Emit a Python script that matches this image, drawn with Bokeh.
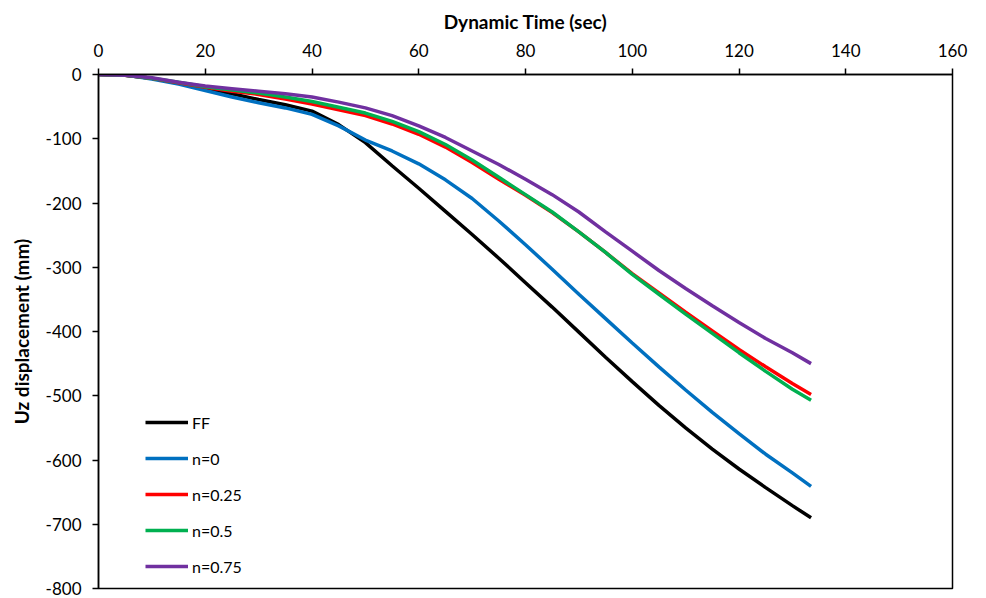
from bokeh.plotting import figure
from bokeh.models import Range1d, Legend, LegendItem
from bokeh.embed import file_html
from bokeh.resources import INLINE

# Data
time = [0, 5, 10, 15, 20, 25, 30, 35, 40, 45, 50, 55, 60, 65, 70, 75, 80, 85,
        90, 95, 100, 105, 110, 115, 120, 125, 130, 133.5]
ff = [0, -1, -6, -13, -21, -30, -39, -47, -57, -78, -106, -142, -177, -213, -249,
      -286, -324, -362, -401, -440, -478, -515, -550, -583, -614, -643, -671, -690]
n0 = [0, -1, -7, -15, -25, -35, -44, -52, -62, -80, -102, -119, -139, -164, -193,
      -228, -265, -303, -342, -380, -418, -455, -491, -526, -559, -591, -620, -641]
n025 = [0, -1, -6, -13, -20, -26, -31, -38, -46, -55, -64, -77, -93, -113, -137,
        -163, -188, -215, -245, -277, -310, -340, -370, -399, -428, -455, -481, -498]
n05 = [0, -1, -6, -12, -19, -24, -29, -35, -42, -51, -60, -73, -89, -109, -133,
       -160, -187, -214, -245, -277, -311, -342, -373, -403, -433, -462, -490, -507]
n075 = [0, -1, -5, -12, -18, -22, -26, -30, -35, -43, -52, -64, -80, -98, -119,
        -140, -163, -187, -214, -245, -275, -305, -333, -360, -386, -411, -433, -450]

series_names = ["FF", "n=0", "n=0.25", "n=0.5", "n=0.75"]
series_values = [ff, n0, n025, n05, n075]
series_colors = ["#000000", "#0070C0", "#FF0000", "#00B050", "#7030A0"]

x_ticks = [0, 20, 40, 60, 80, 100, 120, 140, 160]
y_ticks = [0, -100, -200, -300, -400, -500, -600, -700, -800]

FONT = "Lato"

p = figure(width=986, height=598, output_backend="svg", toolbar_location=None,
           x_axis_location="above",
           x_range=Range1d(0, 160), y_range=Range1d(-800, 0),
           min_border_left=98, min_border_right=34, min_border_top=74,
           min_border_bottom=10)
p.background_fill_color = "white"
p.border_fill_color = "white"
p.xgrid.visible = False
p.ygrid.visible = False
p.outline_line_color = "#000000"
p.outline_line_width = 1.5

items = []
for name, vals, col in zip(series_names, series_values, series_colors):
    r = p.line(time, vals, line_color=col, line_width=3.5)
    items.append(LegendItem(label=name, renderers=[r]))

for ax in (p.xaxis[0], p.yaxis[0]):
    ax.axis_line_color = "#000000"
    ax.axis_line_width = 1.5
    ax.major_tick_line_color = "#000000"
    ax.major_tick_line_width = 1.5
    ax.major_tick_in = 0
    ax.major_tick_out = 6
    ax.minor_tick_line_color = None
    ax.major_label_text_font = FONT
    ax.major_label_text_font_size = "17px"
    ax.major_label_text_color = "#000000"
    ax.axis_label_text_font = FONT
    ax.axis_label_text_font_size = "19px"
    ax.axis_label_text_font_style = "bold"
    ax.axis_label_text_color = "#000000"

p.xaxis[0].ticker = x_ticks
p.yaxis[0].ticker = y_ticks
p.xaxis[0].major_label_overrides = {t: str(t) for t in x_ticks}
p.yaxis[0].major_label_overrides = {t: str(t) for t in y_ticks}
p.xaxis[0].axis_label = "Dynamic Time (sec)"
p.yaxis[0].axis_label = "Uz displacement (mm)"
p.xaxis[0].major_label_standoff = 12
p.xaxis[0].axis_label_standoff = 8
p.yaxis[0].major_label_standoff = 11
p.yaxis[0].axis_label_standoff = 10

legend = Legend(items=items, location=(47, 7))
legend.background_fill_alpha = 0
legend.border_line_color = None
legend.margin = 0
legend.padding = 0
legend.glyph_width = 43
legend.glyph_height = 30
legend.label_height = 20
legend.spacing = 6
legend.label_standoff = 4
legend.label_text_font = FONT
legend.label_text_font_size = "16px"
legend.label_text_color = "#000000"
p.add_layout(legend, "center")

open("out.html", "w").write(file_html(p, INLINE))
